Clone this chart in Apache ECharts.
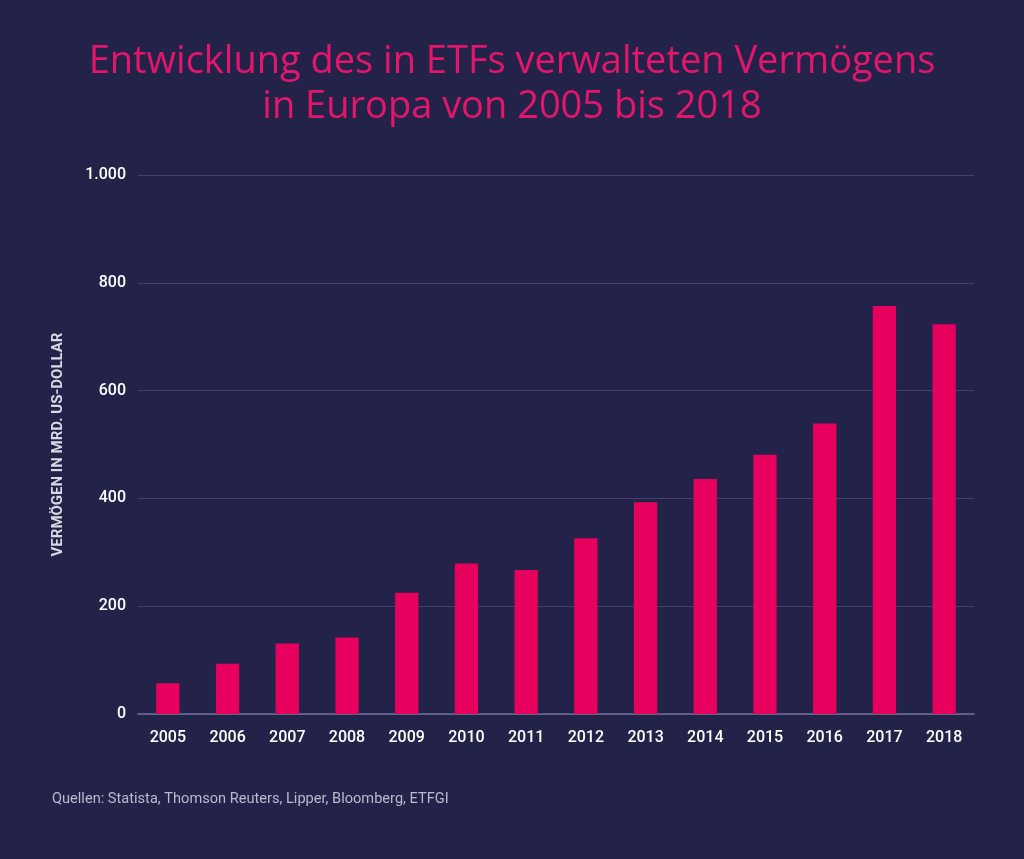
<!DOCTYPE html>
<html lang="de">
<head>
<meta charset="UTF-8" />
<title>ETF-Vermögen Europa</title>
<style>
  html, body { margin: 0; padding: 0; background: #23234a; }
  #main { width: 1024px; height: 859px; }
</style>
</head>
<body>
<div id="main"></div>
<script src="https://cdn.jsdelivr.net/npm/echarts@6/dist/echarts.min.js"></script>
<script>
// Jahre und verwaltetes Vermögen (Mrd. US-Dollar)
var years = ['2005', '2006', '2007', '2008', '2009', '2010', '2011',
             '2012', '2013', '2014', '2015', '2016', '2017', '2018'];
var assets = [57, 93, 131, 142, 225, 279, 267, 326, 393, 436, 481, 539, 757, 723];
var yTicks = [0, 200, 400, 600, 800, 1000];

var chart = echarts.init(document.getElementById('main'));

var option = {
  backgroundColor: '#23234a',
  title: {
    text: 'Entwicklung des in ETFs verwalteten Vermögens\nin Europa von 2005 bis 2018',
    left: 'center',
    top: 35,
    textStyle: {
      color: '#e4166b',
      fontFamily: 'Open Sans',
      fontWeight: 'normal',
      fontSize: 38,
      lineHeight: 45
    }
  },
  graphic: [{
    type: 'text',
    left: 52,
    top: 792,
    style: {
      text: 'Quellen: Statista, Thomson Reuters, Lipper, Bloomberg, ETFGI',
      fill: '#b9b9cf',
      font: '14.6px Roboto'
    }
  }],
  grid: { left: 138, right: 50, top: 175, bottom: 145 },
  xAxis: {
    type: 'category',
    data: years,
    axisTick: { show: false },
    axisLine: { lineStyle: { color: '#6d6f98', width: 1.5 } },
    axisLabel: {
      color: '#ffffff',
      fontFamily: 'Roboto',
      fontWeight: 500,
      fontSize: 16,
      margin: 16
    }
  },
  yAxis: {
    type: 'value',
    min: 0,
    max: 1000,
    interval: 200,
    name: 'VERMÖGEN IN MRD. US-DOLLAR',
    nameLocation: 'middle',
    nameGap: 72,
    nameRotate: 90,
    nameTextStyle: {
      color: '#d9d9e6',
      fontFamily: 'Roboto',
      fontWeight: 'bold',
      fontSize: 15
    },
    axisLabel: {
      color: '#ffffff',
      fontFamily: 'Roboto',
      fontWeight: 500,
      fontSize: 16,
      margin: 12,
      formatter: function (v) {
        return yTicks.indexOf(v) < 0 ? '' : v.toLocaleString('de-DE');
      }
    },
    splitLine: { lineStyle: { color: '#40426c', width: 1 } }
  },
  series: [{
    name: 'Vermögen',
    type: 'bar',
    data: assets,
    barWidth: '39%',
    itemStyle: { color: '#e8005f' }
  }]
};

chart.setOption(option);
</script>
</body>
</html>
